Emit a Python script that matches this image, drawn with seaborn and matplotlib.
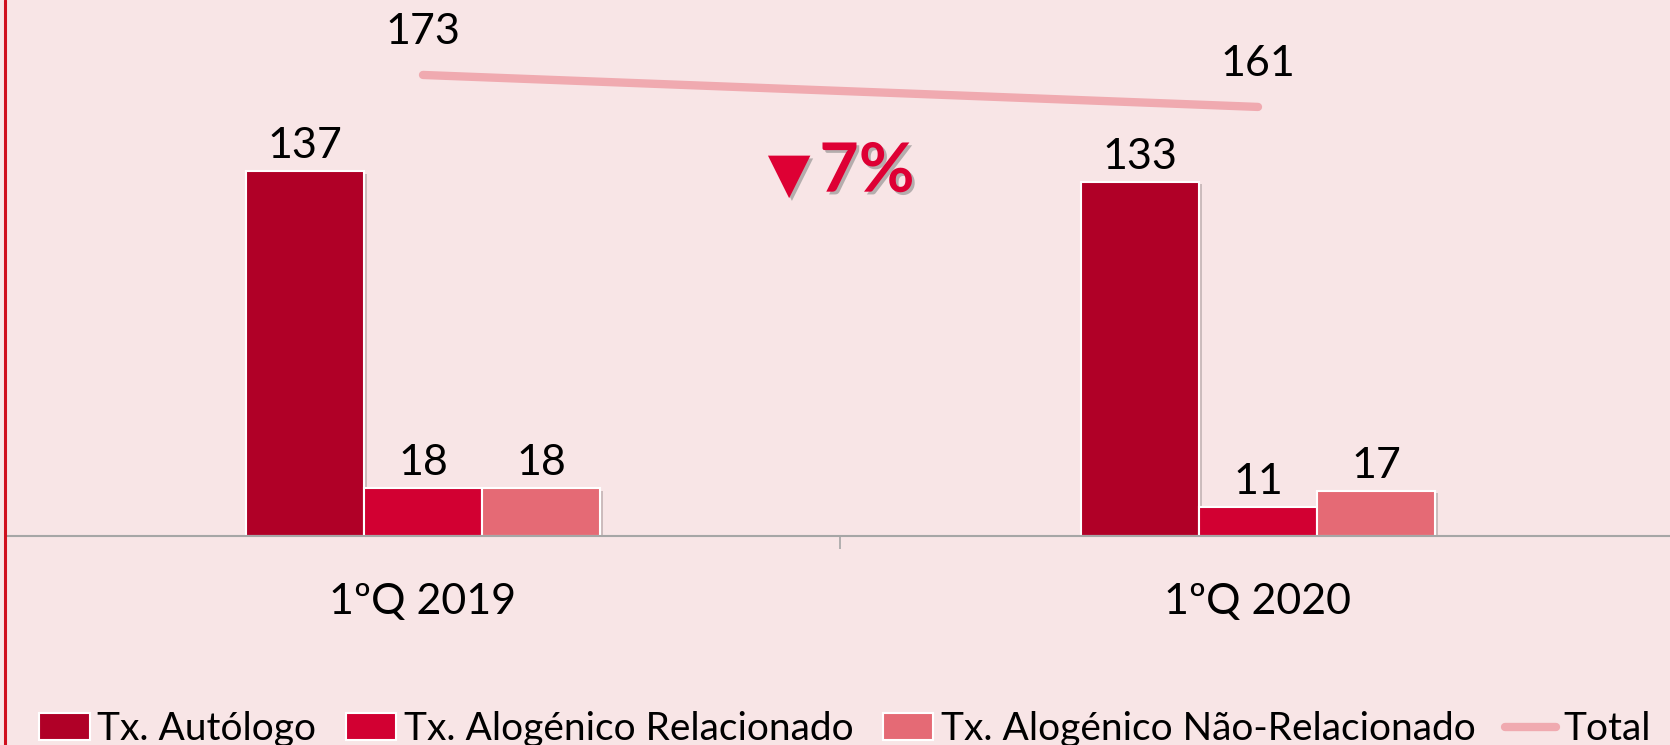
import numpy as np
import pandas as pd
import matplotlib
matplotlib.use("Agg")
import matplotlib.pyplot as plt
import matplotlib.patheffects as pe
from matplotlib.patches import Patch
from matplotlib.lines import Line2D
import seaborn as sns

# --- data -------------------------------------------------------------
periods = ["1ºQ 2019", "1ºQ 2020"]
series = ["Tx. Autólogo", "Tx. Alogénico Relacionado", "Tx. Alogénico Não-Relacionado"]
autologo = [137, 133]
relacionado = [18, 11]
nao_relacionado = [18, 17]
total = [173, 161]
total_label = "Total"
change_pct = "7%"

# --- style ------------------------------------------------------------
bg = "#F8E5E6"
colors = ["#B00027", "#D20032", "#E56A75"]
line_color = "#F0AAB0"
accent = "#DE0034"

sns.set_style("white")
plt.rcParams["font.family"] = ["Lato", "DejaVu Sans"]
plt.rcParams["text.color"] = "black"

df = pd.DataFrame({
    "Período": periods * 3,
    "Tipo": [s for s in series for _ in periods],
    "Valor": autologo + relacionado + nao_relacionado,
})

fig = plt.figure(figsize=(16.7, 7.45), dpi=100, facecolor=bg)
ax = fig.add_axes([5.5 / 1670, 209 / 745, 1670 / 1670, 533 / 745])
ax.set_facecolor(bg)

sns.barplot(data=df, x="Período", y="Valor", hue="Tipo", order=periods,
            hue_order=series, palette=colors, saturation=1, width=0.425, gap=0,
            errorbar=None, edgecolor="white", linewidth=1.5,
            legend=False, ax=ax)

shadow = [pe.SimplePatchShadow(offset=(2, -2), shadow_rgbFace="black", alpha=0.18), pe.Normal()]
for container in ax.containers:
    for bar in container:
        bar.set_path_effects(shadow)
    ax.bar_label(container, fmt="%d", padding=4, fontsize=31, color="black")

# total line across the two periods
x_pos = np.arange(len(periods))
ax.plot(x_pos, total, color=line_color, lw=6, solid_capstyle="round", zorder=4)
for xi, v in zip(x_pos, total):
    ax.annotate(f"{v}", (xi, v), xytext=(0, 17), textcoords="offset points",
                ha="center", va="bottom", fontsize=31, color="black")

# change annotation between the periods
text_shadow = [pe.withSimplePatchShadow(offset=(2, -2), shadow_rgbFace="#888888", alpha=0.6)]
ax.annotate("▼", (0.5, 136), xytext=(-37, -2), textcoords="offset points",
            ha="center", va="center", fontsize=40, color=accent,
            family="DejaVu Sans", path_effects=text_shadow)
ax.annotate(change_pct, (0.5, 136), xytext=(19, 1), textcoords="offset points",
            ha="center", va="center", fontsize=49, fontweight="bold",
            color=accent, path_effects=text_shadow)

# axes styling
ax.set_xlim(-0.5, 1.5)
ax.set_ylim(0, 200)
ax.set_xlabel("")
ax.set_ylabel("")
ax.set_yticks([])
for side in ["top", "right", "left"]:
    ax.spines[side].set_visible(False)
ax.spines["bottom"].set_color("#A6A6A6")
ax.spines["bottom"].set_linewidth(1.5)
ax.set_xticks(x_pos)
ax.set_xticklabels(periods)
ax.set_xticks([-0.5, 0.5, 1.5], minor=True)
ax.tick_params(axis="x", which="major", bottom=True, length=0, pad=34,
               labelsize=31, labelcolor="black")
ax.tick_params(axis="x", which="minor", bottom=True, length=9, width=1.2,
               color="#A6A6A6", direction="out")

# legend
handles = [Patch(facecolor=c, edgecolor="white", linewidth=1.5) for c in colors]
handles.append(Line2D([0], [0], color=line_color, lw=6, solid_capstyle="round"))
fig.legend(handles, series + [total_label], loc="lower center", ncol=4,
           bbox_to_anchor=(0.506, -0.05), frameon=False, fontsize=28,
           handlelength=1.3, handleheight=0.7, handletextpad=0.2,
           columnspacing=0.75, labelcolor="black")

# red rule on the left edge
fig.add_artist(Line2D([5 / 1670, 5 / 1670], [0, 1], color="#D0101E", lw=2.2,
                      transform=fig.transFigure))

fig.savefig("out.png", dpi=100, facecolor=bg)
